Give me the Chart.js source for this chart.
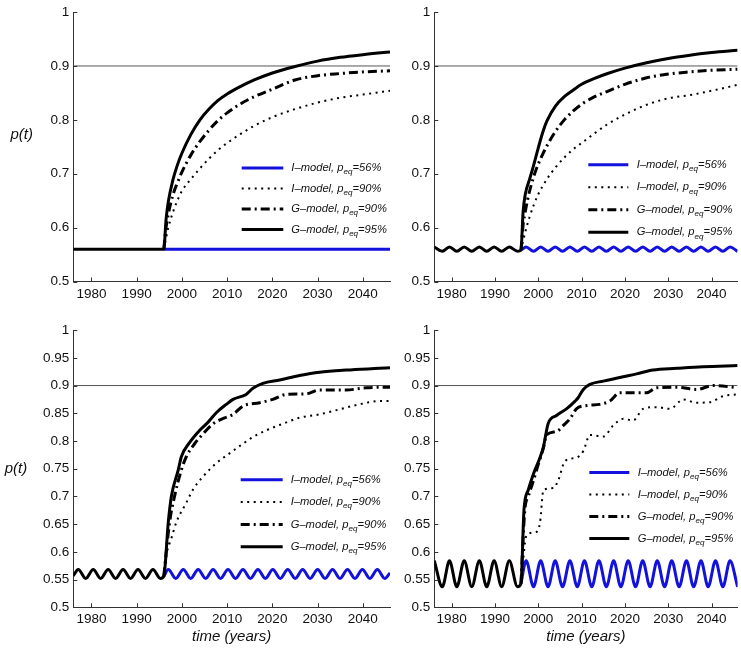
<!DOCTYPE html>
<html>
<head>
<meta charset="utf-8">
<script src="https://cdn.jsdelivr.net/npm/chart.js@4.4.1/dist/chart.umd.min.js"></script>
<style>
  body { margin: 0; background: #fff; }
  #wrap { position: relative; width: 741px; height: 648px; }
  .panel { position: absolute; }
</style>
</head>
<body>
<div id="wrap">
  <div class="panel" style="left:0;top:0;width:395px;height:318px"><canvas id="tl"></canvas></div>
  <div class="panel" style="left:395px;top:0;width:346px;height:318px"><canvas id="tr"></canvas></div>
  <div class="panel" style="left:0;top:318px;width:395px;height:330px"><canvas id="bl"></canvas></div>
  <div class="panel" style="left:395px;top:318px;width:346px;height:330px"><canvas id="br"></canvas></div>
</div>
<script>
// axis ticks
const xTicks = [1980, 1990, 2000, 2010, 2020, 2030, 2040];
const yTicksTop = [0.5, 0.6, 0.7, 0.8, 0.9, 1];
const yTicksBottom = [0.5, 0.55, 0.6, 0.65, 0.7, 0.75, 0.8, 0.85, 0.9, 0.95, 1];
const refLevel = 0.9;

// legend text: [before subscript, subscript, after]
const legendLabels = [
  ["I\u2013model, p", "eq", "=56%"],
  ["I\u2013model, p", "eq", "=90%"],
  ["G\u2013model, p", "eq", "=90%"],
  ["G\u2013model, p", "eq", "=95%"],
];

// ---- top left: no fluctuation ----
const tlWave = [[1976, 0.56], [1996, 0.56]];
const tlBlue = [[1996, 0.56], [2046, 0.56]];
const tlDotted = [[1996, 0.56], [1997, 0.6], [1998, 0.628], [1999, 0.65], [2000, 0.668], [2002, 0.69],
  [2004, 0.71], [2006, 0.728], [2008, 0.744], [2010, 0.757], [2013, 0.774], [2016, 0.789], [2020, 0.805],
  [2025, 0.82], [2030, 0.832], [2035, 0.841], [2040, 0.847], [2046, 0.854]];
const tlDashDot = [[1996, 0.56], [1996.5, 0.6], [1997, 0.625], [1998, 0.66], [1999, 0.683], [2000, 0.703],
  [2002, 0.735], [2004, 0.76], [2006, 0.781], [2008, 0.799], [2010, 0.813], [2013, 0.83], [2016, 0.843],
  [2020, 0.857], [2025, 0.874], [2030, 0.882], [2035, 0.886], [2040, 0.889], [2046, 0.891]];
const tlSolid = [[1996.5, 0.615], [1997, 0.648], [1998, 0.688], [1999, 0.716], [2000, 0.738], [2002, 0.773],
  [2004, 0.8], [2006, 0.82], [2008, 0.836], [2010, 0.848], [2013, 0.862], [2016, 0.874], [2020, 0.887],
  [2025, 0.899], [2030, 0.909], [2035, 0.916], [2040, 0.921], [2046, 0.926]];

// ---- top right: small fluctuation ----
const trWave = [[1976, 0.564], [1977.85, 0.556], [1979.5, 0.564], [1981.2, 0.556], [1982.9, 0.564],
  [1984.65, 0.556], [1986.4, 0.564], [1988.1, 0.556], [1989.8, 0.564], [1991.55, 0.556], [1993.3, 0.564],
  [1995.2, 0.556], [1996, 0.558]];
const trBlue = [[1996, 0.558], [1997.2, 0.564], [1998.9, 0.556], [2000.55, 0.564], [2002.25, 0.556],
  [2003.9, 0.564], [2005.6, 0.556], [2007.3, 0.564], [2009, 0.556], [2010.65, 0.564], [2012.35, 0.556],
  [2014, 0.564], [2015.7, 0.556], [2017.4, 0.564], [2019.05, 0.556], [2020.75, 0.564], [2022.45, 0.556],
  [2024.1, 0.564], [2025.8, 0.556], [2027.45, 0.564], [2029.15, 0.556], [2030.8, 0.564], [2032.5, 0.556],
  [2034.2, 0.564], [2035.85, 0.556], [2037.55, 0.564], [2039.2, 0.556], [2040.9, 0.564], [2042.6, 0.556],
  [2044.25, 0.564], [2046, 0.556]];
const trDotted = [[1996, 0.558], [1997, 0.592], [1998, 0.62], [1999, 0.643], [2000, 0.662], [2002, 0.69],
  [2004, 0.712], [2006, 0.73], [2008, 0.745], [2010, 0.757], [2013, 0.775], [2016, 0.792], [2020, 0.81],
  [2025, 0.828], [2030, 0.84], [2035, 0.846], [2040, 0.854], [2046, 0.865]];
const trDashDot = [[1996, 0.558], [1996.5, 0.605], [1997, 0.63], [1998, 0.668], [1999, 0.696], [2000, 0.718],
  [2002, 0.752], [2004, 0.779], [2006, 0.8], [2008, 0.816], [2010, 0.829], [2013, 0.843], [2016, 0.853],
  [2020, 0.866], [2025, 0.878], [2030, 0.885], [2035, 0.889], [2040, 0.892], [2046, 0.894]];
const trSolid = [[1996.5, 0.63], [1997, 0.662], [1998, 0.69], [1999, 0.718], [2000, 0.748], [2001, 0.776],
  [2002, 0.798], [2004, 0.826], [2006, 0.843], [2008, 0.855], [2010, 0.866], [2013, 0.877], [2016, 0.886],
  [2020, 0.896], [2025, 0.906], [2030, 0.914], [2035, 0.92], [2040, 0.925], [2046, 0.929]];

// ---- bottom left: medium fluctuation ----
const blWave = [[1976, 0.557], [1977.1, 0.568], [1978.75, 0.552], [1980.4, 0.568], [1982.05, 0.552],
  [1983.7, 0.568], [1985.35, 0.552], [1987, 0.568], [1988.65, 0.552], [1990.3, 0.568], [1991.95, 0.552],
  [1993.6, 0.568], [1995.25, 0.552], [1996, 0.556]];
const blBlue = [[1996, 0.556], [1997, 0.568], [1998.65, 0.552], [2000.3, 0.568], [2001.95, 0.552],
  [2003.6, 0.568], [2005.25, 0.552], [2006.9, 0.568], [2008.55, 0.552], [2010.2, 0.568], [2011.85, 0.552],
  [2013.5, 0.568], [2015.15, 0.552], [2016.8, 0.568], [2018.45, 0.552], [2020.1, 0.568], [2021.75, 0.552],
  [2023.4, 0.568], [2025.05, 0.552], [2026.7, 0.568], [2028.35, 0.552], [2030, 0.568], [2031.65, 0.552],
  [2033.3, 0.568], [2034.95, 0.552], [2036.6, 0.568], [2038.25, 0.552], [2039.9, 0.568], [2041.55, 0.552],
  [2043.2, 0.568], [2044.85, 0.552], [2046, 0.562]];
const blDotted = [[1996, 0.556], [1996.6, 0.595], [1997.7, 0.625], [1998.8, 0.654], [2001, 0.689],
  [2002.5, 0.713], [2004.7, 0.736], [2007.6, 0.76], [2010.6, 0.778], [2013.5, 0.795], [2015.7, 0.807],
  [2018.6, 0.819], [2022.3, 0.831], [2026, 0.842], [2030.4, 0.848], [2034.8, 0.857], [2039.2, 0.866],
  [2043.6, 0.872], [2046, 0.872]];
const blDashDot = [[1996, 0.556], [1997.3, 0.654], [1998.4, 0.701], [1999.9, 0.748], [2001, 0.772],
  [2002.8, 0.795], [2004.7, 0.813], [2006.9, 0.831], [2008.7, 0.839], [2011.3, 0.848], [2013.5, 0.863],
  [2017.2, 0.869], [2020.1, 0.875], [2023.1, 0.884], [2027.5, 0.885], [2030.4, 0.892], [2036.3, 0.892],
  [2040.7, 0.896], [2046, 0.897]];
const blSolid = [[1997, 0.654], [1997.7, 0.701], [1999.2, 0.748], [1999.9, 0.772], [2001.6, 0.796],
  [2003.9, 0.819], [2005.8, 0.834], [2007.6, 0.851], [2009.8, 0.866], [2011.3, 0.875], [2014.2, 0.884],
  [2015.7, 0.895], [2017.9, 0.904], [2021.6, 0.91], [2026, 0.918], [2030.4, 0.924], [2036.3, 0.928],
  [2043.6, 0.931], [2046, 0.932]];

// ---- bottom right: large fluctuation ----
const brWave = [[1976, 0.584], [1977.85, 0.537], [1979.5, 0.584], [1981.2, 0.537], [1982.9, 0.584],
  [1984.65, 0.537], [1986.4, 0.584], [1988.1, 0.537], [1989.8, 0.584], [1991.55, 0.537], [1993.3, 0.584],
  [1995.2, 0.537], [1996, 0.543]];
const brBlue = [[1996, 0.543], [1997.2, 0.584], [1998.9, 0.537], [2000.55, 0.584], [2002.25, 0.537],
  [2003.9, 0.584], [2005.6, 0.537], [2007.3, 0.584], [2009, 0.537], [2010.65, 0.584], [2012.35, 0.537],
  [2014, 0.584], [2015.7, 0.537], [2017.4, 0.584], [2019.05, 0.537], [2020.75, 0.584], [2022.45, 0.537],
  [2024.1, 0.584], [2025.8, 0.537], [2027.45, 0.584], [2029.15, 0.537], [2030.8, 0.584], [2032.5, 0.537],
  [2034.2, 0.584], [2035.85, 0.537], [2037.55, 0.584], [2039.2, 0.537], [2040.9, 0.584], [2042.6, 0.537],
  [2044.25, 0.584], [2046, 0.537]];
const brDotted = [[1996, 0.543], [1997.3, 0.63], [1999.6, 0.636], [2000.4, 0.653], [2001.2, 0.712],
  [2003.5, 0.715], [2004.6, 0.729], [2006.2, 0.764], [2008.8, 0.77], [2010.4, 0.782], [2011.9, 0.811],
  [2015, 0.808], [2017.3, 0.828], [2019.6, 0.84], [2021.9, 0.837], [2024.2, 0.858], [2027.3, 0.861],
  [2030.4, 0.858], [2033.5, 0.875], [2036.5, 0.869], [2039.6, 0.87], [2042.7, 0.881], [2046, 0.884]];
const brDashDot = [[1996, 0.543], [1996.9, 0.676], [1997.7, 0.7], [1998.9, 0.729], [2000, 0.758],
  [2001.2, 0.788], [2001.9, 0.811], [2004.2, 0.817], [2005.8, 0.828], [2007.3, 0.84], [2008.8, 0.858],
  [2011.2, 0.864], [2014.2, 0.866], [2016.5, 0.872], [2018.8, 0.887], [2025, 0.887], [2027.3, 0.896],
  [2031.9, 0.897], [2036.5, 0.893], [2040.4, 0.9], [2046, 0.896]];
const brSolid = [[1996.7, 0.676], [1997.7, 0.712], [1998.9, 0.741], [2000.4, 0.77], [2001.2, 0.79],
  [2002.3, 0.832], [2004.2, 0.846], [2006.5, 0.858], [2008.5, 0.872], [2009.2, 0.878], [2010.4, 0.893],
  [2011.9, 0.902], [2015, 0.908], [2019.6, 0.916], [2022.7, 0.921], [2026.5, 0.928], [2031.9, 0.931],
  [2038, 0.934], [2046, 0.936]];

const blue = "#1212dc";
const fontFam = '"Liberation Sans", Arial, sans-serif';

function pts(arr) {
  return arr.map(p => ({ x: p[0], y: p[1] }));
}

// tick marks pointing into the plot
const inTicks = {
  id: "inTicks",
  afterDraw(chart) {
    const { ctx, chartArea: a, scales: { x, y } } = chart;
    ctx.save();
    ctx.strokeStyle = "#333";
    ctx.lineWidth = 1;
    ctx.beginPath();
    x.ticks.forEach(t => {
      const px = Math.round(x.getPixelForValue(t.value)) + 0.5;
      ctx.moveTo(px, a.bottom);
      ctx.lineTo(px, a.bottom - 4);
    });
    y.ticks.forEach(t => {
      const py = Math.round(y.getPixelForValue(t.value)) + 0.5;
      ctx.moveTo(a.left, py);
      ctx.lineTo(a.left + 4, py);
    });
    ctx.stroke();
    ctx.restore();
  },
};

// legend with subscripts
const modelLegend = {
  id: "modelLegend",
  afterDraw(chart, args, opts) {
    const { ctx, chartArea: a } = chart;
    const x0 = a.left + opts.x;
    legendLabels.forEach((parts, i) => {
      const ds = chart.data.datasets[i];
      const yy = a.top + opts.y + i * opts.gap;
      ctx.save();
      ctx.strokeStyle = ds.borderColor;
      ctx.lineWidth = ds.borderWidth;
      ctx.setLineDash(ds.borderDash || []);
      ctx.beginPath();
      ctx.moveTo(x0, yy);
      ctx.lineTo(x0 + opts.len, yy);
      ctx.stroke();
      ctx.setLineDash([]);
      ctx.fillStyle = "#111";
      ctx.textBaseline = "middle";
      const big = "italic " + opts.size + "px " + fontFam;
      const small = "italic " + (opts.size * 0.72) + "px " + fontFam;
      let tx = x0 + opts.len + opts.textGap;
      ctx.font = big;
      ctx.fillText(parts[0], tx, yy);
      tx += ctx.measureText(parts[0]).width;
      ctx.font = small;
      ctx.fillText(parts[1], tx, yy + 4);
      tx += ctx.measureText(parts[1]).width;
      ctx.font = big;
      ctx.fillText(parts[2], tx, yy);
      ctx.restore();
    });
  },
};

// horizontal "p(t)" label
const yLabel = {
  id: "yLabel",
  afterDraw(chart, args, opts) {
    if (!opts.show) return;
    const { ctx, chartArea: a } = chart;
    ctx.save();
    ctx.fillStyle = "#111";
    ctx.font = "italic 15px " + fontFam;
    ctx.textAlign = "center";
    ctx.textBaseline = "middle";
    ctx.fillText("p(t)", opts.x, a.top + opts.y);
    ctx.restore();
  },
};

function makeChart(id, c) {
  const datasets = [
    { data: pts(c.blue), borderColor: blue, borderWidth: 3, order: 3 },
    { data: pts(c.dotted), borderColor: "#000", borderWidth: 2, borderDash: [2, 4.5], order: 2 },
    { data: pts(c.dashDot), borderColor: "#000", borderWidth: 3, borderDash: [9, 4, 2, 4], order: 1 },
    { data: pts(c.wave.concat(c.solid)), borderColor: "#000", borderWidth: 3, order: 0 },
    { data: pts([[1976, refLevel], [2046, refLevel]]), borderColor: "#555", borderWidth: 1, order: 5 },
  ];
  datasets.forEach(d => {
    d.pointRadius = 0;
    d.cubicInterpolationMode = "monotone";
  });
  new Chart(document.getElementById(id), {
    type: "line",
    data: { datasets: datasets },
    options: {
      responsive: true,
      maintainAspectRatio: false,
      animation: false,
      layout: { autoPadding: false, padding: c.pad },
      plugins: {
        legend: { display: false },
        tooltip: { enabled: false },
        modelLegend: c.legend,
        yLabel: c.ylab,
      },
      scales: {
        x: {
          type: "linear",
          min: 1976,
          max: 2046,
          afterBuildTicks: s => { s.ticks = xTicks.map(v => ({ value: v })); },
          afterFit: s => { s.height = c.xH; },
          grid: { display: false, drawTicks: false },
          border: { color: "#333", width: 1 },
          ticks: {
            padding: c.xPad,
            color: "#111",
            autoSkip: false,
            maxRotation: 0,
            font: { family: fontFam, size: 13.5 },
            callback: v => String(v),
          },
          title: {
            display: c.xTitle,
            text: "time (years)",
            color: "#111",
            padding: { top: 0, bottom: 2 },
            font: { family: fontFam, size: 15, style: "italic" },
          },
        },
        y: {
          min: 0.5,
          max: 1,
          afterBuildTicks: s => { s.ticks = c.yTicks.map(v => ({ value: v })); },
          afterFit: s => { s.width = c.yW; },
          grid: { display: false, drawTicks: false },
          border: { color: "#333", width: 1 },
          ticks: {
            padding: 4,
            color: "#111",
            autoSkip: false,
            font: { family: fontFam, size: 13.5 },
            callback: v => String(v),
          },
        },
      },
    },
    plugins: [inTicks, modelLegend, yLabel],
  });
}

makeChart("tl", {
  blue: tlBlue, dotted: tlDotted, dashDot: tlDashDot, wave: tlWave, solid: tlSolid,
  yTicks: yTicksTop, yW: 73.3, xH: 30, xPad: 5, xTitle: false,
  pad: { left: 0, right: 5, top: 9, bottom: 6.5 },
  legend: { x: 168.4, y: 156, gap: 20.5, len: 41.6, textGap: 8, size: 11.2 },
  ylab: { show: true, x: 21.7, y: 123 },
});
makeChart("tr", {
  blue: trBlue, dotted: trDotted, dashDot: trDashDot, wave: trWave, solid: trSolid,
  yTicks: yTicksTop, yW: 39.3, xH: 30, xPad: 5, xTitle: false,
  pad: { left: 0, right: 3.4, top: 9, bottom: 6.5 },
  legend: { x: 154, y: 152.7, gap: 22.5, len: 40, textGap: 8.4, size: 11.2 },
  ylab: { show: false },
});
makeChart("bl", {
  blue: blBlue, dotted: blDotted, dashDot: blDashDot, wave: blWave, solid: blSolid,
  yTicks: yTicksBottom, yW: 73.3, xH: 40.7, xPad: 4, xTitle: true,
  pad: { left: 0, right: 5, top: 6.3, bottom: 0 },
  legend: { x: 167.4, y: 149.7, gap: 22.3, len: 42, textGap: 8, size: 11.2 },
  ylab: { show: true, x: 16, y: 138.7 },
});
makeChart("br", {
  blue: brBlue, dotted: brDotted, dashDot: brDashDot, wave: brWave, solid: brSolid,
  yTicks: yTicksBottom, yW: 39.3, xH: 40.7, xPad: 4, xTitle: true,
  pad: { left: 0, right: 3.4, top: 6.3, bottom: 0 },
  legend: { x: 155, y: 142.4, gap: 22, len: 40, textGap: 8.4, size: 11.2 },
  ylab: { show: false },
});
</script>
</body>
</html>
